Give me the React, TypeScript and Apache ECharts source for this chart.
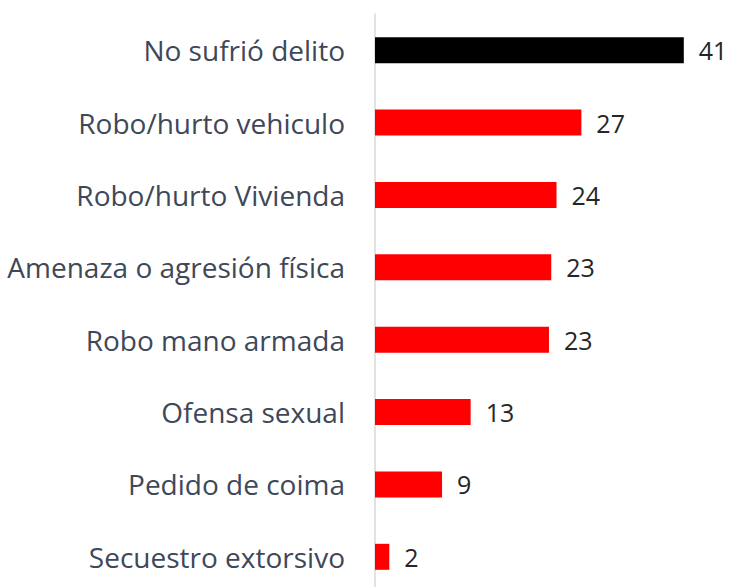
import React, { useEffect, useRef } from "react";
import * as echarts from "echarts";

const categories = [
  "No sufrió delito",
  "Robo/hurto vehiculo",
  "Robo/hurto Vivienda",
  "Amenaza o agresión física",
  "Robo mano armada",
  "Ofensa sexual",
  "Pedido de coima",
  "Secuestro extorsivo",
];
const values = [41, 27.4, 24.1, 23.4, 23.1, 12.7, 8.9, 1.9];
const barColors = ["#000000", "#ff0000", "#ff0000", "#ff0000", "#ff0000", "#ff0000", "#ff0000", "#ff0000"];

export default function App() {
  const ref = useRef<HTMLDivElement>(null);
  useEffect(() => {
    if (!ref.current) return;
    const chart = echarts.init(ref.current, undefined, { renderer: "svg" });
    const font = "'Open Sans', sans-serif";
    chart.setOption({
      animation: false,
      backgroundColor: "#ffffff",
      grid: { left: 375, right: 2, top: 14, bottom: 7, containLabel: false },
      xAxis: {
        type: "value",
        min: 0,
        max: 47,
        show: false,
      },
      yAxis: {
        type: "category",
        inverse: true,
        data: categories,
        axisLine: { show: true, lineStyle: { color: "#d9d9d9", width: 1.5 } },
        axisTick: { show: false },
        axisLabel: {
          margin: 30,
          color: "#3e4858",
          fontSize: 28,
          fontFamily: font,
        },
      },
      series: [
        {
          type: "bar",
          barWidth: 26,
          data: values.map((v, i) => ({
            value: v,
            itemStyle: { color: barColors[i] },
          })),
          label: {
            show: true,
            position: "right",
            distance: 15,
            color: "#262626",
            fontSize: 25,
            fontFamily: font,
            formatter: (p: any) => String(Math.round(p.value)),
          },
        },
      ],
    });
    return () => chart.dispose();
  }, []);
  return (
    <div
      ref={ref}
      style={{ position: "fixed", left: 0, top: 0, width: 731, height: 600 }}
    />
  );
}
